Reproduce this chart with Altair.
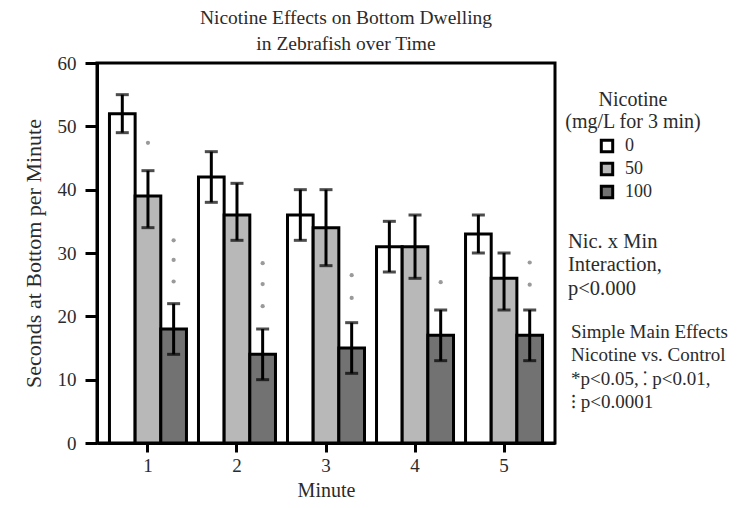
import altair as alt
import pandas as pd

minutes = ["1", "2", "3", "4", "5"]
doses = ["0", "50", "100"]
fills = ["#ffffff", "#b8b8b8", "#727272"]

mean_0 = [52, 42, 36, 31, 33]
mean_50 = [39, 36, 34, 31, 26]
mean_100 = [18, 14, 15, 17, 17]
lo_0 = [49, 38, 32, 27, 30]
hi_0 = [55, 46, 40, 35, 36]
lo_50 = [34, 32, 28, 26, 21]
hi_50 = [43, 41, 40, 36, 30]
lo_100 = [14, 10, 11, 13, 13]
hi_100 = [22, 18, 19, 21, 21]

sig_minute = ["1", "1", "1", "1", "2", "2", "2", "3", "3", "4", "5", "5"]
sig_dose = ["50", "100", "100", "100", "100", "100", "100", "100", "100", "100", "100", "100"]
sig_y = [47.4, 32, 28.9, 25.5, 28.4, 25.1, 21.6, 26.5, 22.9, 25.4, 28.5, 25]

title_lines = ["Nicotine Effects on Bottom Dwelling", "in Zebrafish over Time"]
legend_title = ["Nicotine", "(mg/L for 3 min)"]
annot_1 = ["Nic. x Min", "Interaction,", "p<0.000"]
annot_2 = ["Simple Main Effects", "Nicotine vs. Control", "*p<0.05, \u205a p<0.01,", "\u205d p<0.0001"]

rows = []
for d, m, lo, hi in [("0", mean_0, lo_0, hi_0), ("50", mean_50, lo_50, hi_50), ("100", mean_100, lo_100, hi_100)]:
    for i, mi in enumerate(minutes):
        rows.append({"minute": mi, "dose": d, "mean": m[i], "lo": lo[i], "hi": hi[i]})
df = pd.DataFrame(rows)
sig = pd.DataFrame({"minute": sig_minute, "dose": sig_dose, "y": sig_y})

FONT = "Liberation Serif"
TXT = "#2b2b2b"

x_enc = alt.X("minute:N", sort=minutes,
              scale=alt.Scale(paddingInner=0.135, paddingOuter=0.14),
              axis=alt.Axis(title="Minute", labelAngle=0, titleY=47, titleBaseline="middle",
                            labelFont=FONT, titleFont=FONT))
xo_enc = alt.XOffset("dose:N", sort=doses, scale=alt.Scale(domain=doses, paddingInner=0, paddingOuter=0))
y_scale = alt.Scale(domain=[0, 60], nice=False)

base = alt.Chart(df)

bars = base.mark_bar(stroke="black", strokeWidth=3).encode(
    x=x_enc,
    xOffset=xo_enc,
    y=alt.Y("mean:Q", scale=y_scale,
            axis=alt.Axis(title="Seconds at Bottom per Minute", values=[0, 10, 20, 30, 40, 50, 60],
                          tickSize=12, labelPadding=9, titleX=-64, titleY=190,
                          titleAlign="center", titleBaseline="middle", titleAngle=-90,
                          titleFontSize=22, labelFont=FONT, titleFont=FONT)),
    fill=alt.Fill("dose:N", sort=doses, scale=alt.Scale(domain=doses, range=fills),
                  legend=alt.Legend(orient="none", legendX=468, legendY=27, title=legend_title,
                                    titleAlign="center", titleAnchor="middle", titleLineHeight=22,
                                    titleFont=FONT, titleFontSize=20, titleFontWeight="normal",
                                    titleColor=TXT, titlePadding=5,
                                    labelFont=FONT, labelFontSize=18, labelColor=TXT, labelOffset=9,
                                    symbolType="square", symbolSize=130, symbolStrokeColor="black",
                                    symbolStrokeWidth=3, symbolOffset=-16, rowPadding=-1)),
)

rules = base.mark_rule(color="black", strokeWidth=3).encode(
    x=x_enc, xOffset=xo_enc, y=alt.Y("lo:Q", scale=y_scale), y2="hi:Q")
cap_lo = base.mark_tick(color="black", thickness=3, size=13, orient="horizontal").encode(
    x=x_enc, xOffset=xo_enc, y=alt.Y("lo:Q", scale=y_scale))
cap_hi = base.mark_tick(color="black", thickness=3, size=13, orient="horizontal").encode(
    x=x_enc, xOffset=xo_enc, y=alt.Y("hi:Q", scale=y_scale))

dots = alt.Chart(sig).mark_circle(color="#9a9a9a", size=18, opacity=1).encode(
    x=x_enc, xOffset=xo_enc, y=alt.Y("y:Q", scale=y_scale))

def text_block(lines, x, y, size):
    return alt.Chart(pd.DataFrame({"t": ["\n".join(lines)]})).mark_text(
        align="left", baseline="top", lineBreak="\n", lineHeight=23.4,
        font=FONT, fontSize=size, color=TXT).encode(
        x=alt.value(x), y=alt.value(y), text="t:N")

t1 = text_block(annot_1, 471, 169, 20.5)
t2 = text_block(annot_2, 474, 260, 19)

chart = alt.layer(bars, rules, cap_lo, cap_hi, dots, t1, t2).properties(
    width=458, height=380,
    autosize=alt.AutoSizeParams(type="none"),
    padding={"left": 89, "top": 55, "right": 182, "bottom": 57},
    title=alt.TitleParams(text=title_lines, font=FONT, fontSize=19.5, fontWeight="normal",
                          color=TXT, lineHeight=26, anchor="middle", frame="group",
                          dx=20, offset=0),
).configure(font=FONT).configure_view(stroke="black", strokeWidth=3).configure_axis(
    labelFont=FONT, labelFontSize=19, labelColor=TXT, titleFont=FONT, titleFontSize=20,
    titleFontWeight="normal", titleColor=TXT, domainColor="black", domainWidth=3,
    tickColor="black", tickWidth=3, grid=False,
).configure_axisX(tickSize=9, labelPadding=4).configure_legend(
    labelFont=FONT, titleFont=FONT,
)

chart.save("out.html", embed_options={"renderer": "svg", "actions": False})
